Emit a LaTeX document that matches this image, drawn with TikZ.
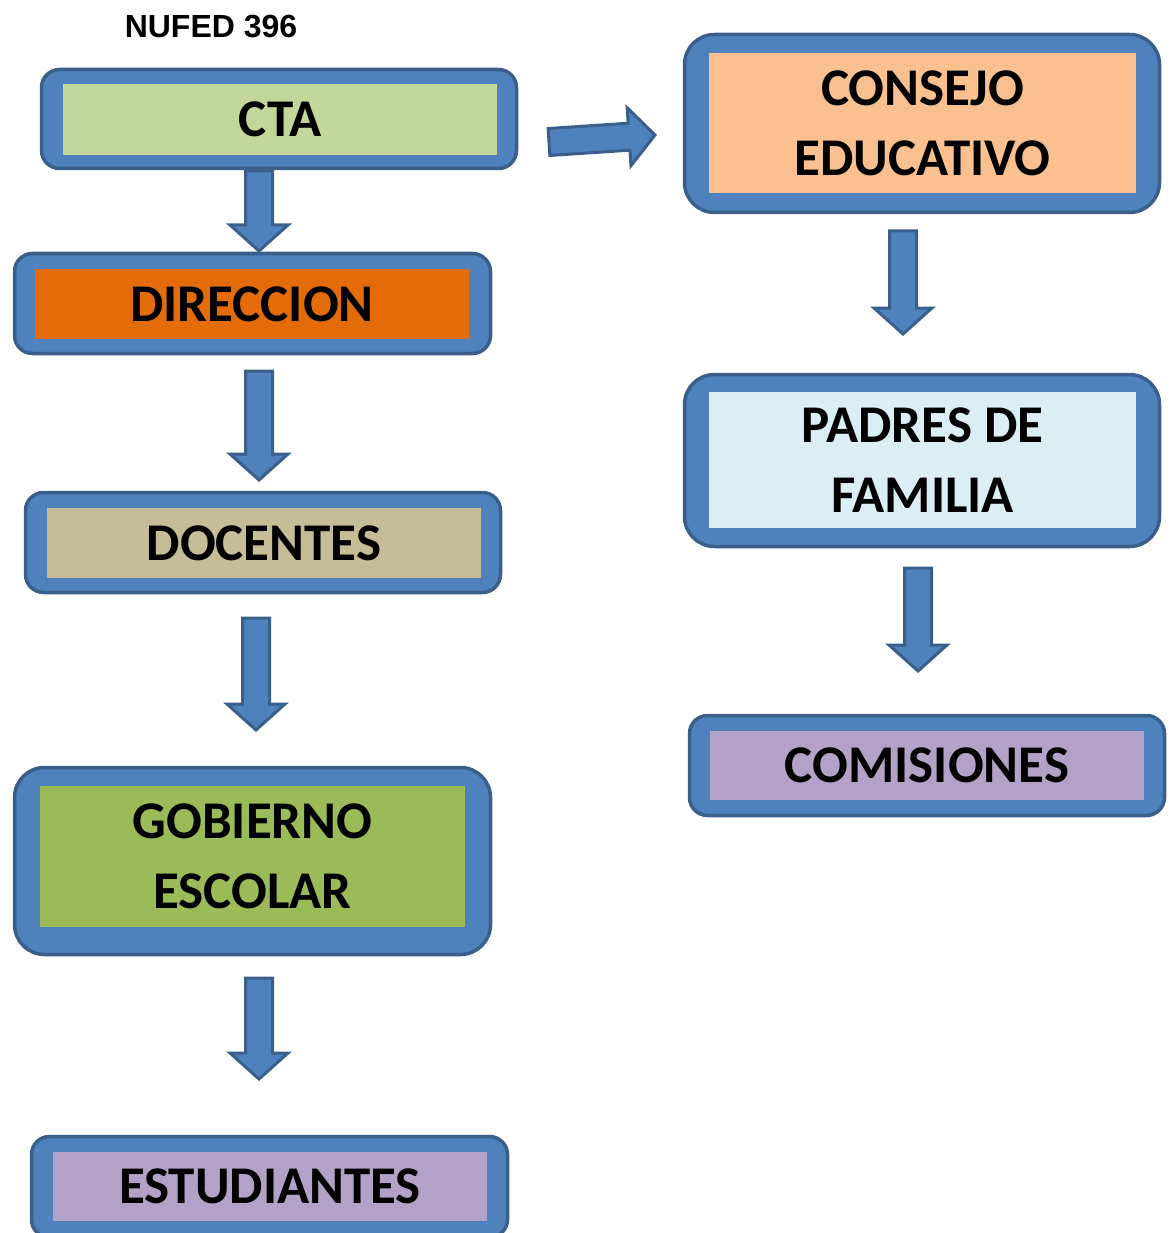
\documentclass[tikz,border=0pt]{standalone}
\usepackage{fontspec}
\setmainfont{Carlito}
\newfontfamily\arialfont{Liberation Sans}
\usetikzlibrary{calc}
\definecolor{frameblue}{HTML}{4F81BD}
\definecolor{frameline}{HTML}{3A5F8B}
\definecolor{ctagreen}{HTML}{C3D69B}
\definecolor{dirorange}{HTML}{E36C09}
\definecolor{doctan}{HTML}{C4BD97}
\definecolor{gobgreen}{HTML}{9BBB59}
\definecolor{lilac}{HTML}{B2A2C7}
\definecolor{peach}{HTML}{FAC08F}
\definecolor{paleblue}{HTML}{DBEEF3}
\begin{document}
\begin{tikzpicture}[x=1pt,y=-1pt,
  frame/.style={draw=frameline, fill=frameblue, line width=3.5pt, rounded corners=18pt, inner sep=0pt},
  bigframe/.style={frame, rounded corners=30pt},
  inner/.style={inner sep=0pt, font=\fontsize{53}{70}\selectfont\bfseries, align=center, text=black},
  blockarrow/.style={draw=frameline, fill=frameblue, line width=3pt, line join=miter,
    to path={let \p1=(\tikztostart), \p2=(\tikztotarget),
      \n1={veclen(\x2-\x1,\y2-\y1)}, \n2={(\x2-\x1)/\n1}, \n3={(\y2-\y1)/\n1}, \n4={\n1-26} in
      ({\x1-13.5*\n3},{\y1+13.5*\n2})
      -- ({\x1+\n4*\n2-13.5*\n3},{\y1+\n4*\n3+13.5*\n2})
      -- ({\x1+\n4*\n2-29*\n3},{\y1+\n4*\n3+29*\n2})
      -- (\p2)
      -- ({\x1+\n4*\n2+29*\n3},{\y1+\n4*\n3-29*\n2})
      -- ({\x1+\n4*\n2+13.5*\n3},{\y1+\n4*\n3-13.5*\n2})
      -- ({\x1+13.5*\n3},{\y1-13.5*\n2}) -- cycle}}
]
\useasboundingbox (0,0) rectangle (1172,1233);

\node[font=\arialfont\fontsize{32}{36}\selectfont\bfseries] (title) at (211,27) {NUFED 396};

% left column
\node[frame, minimum width=475pt, minimum height=99pt] (cta) at (279,119) {};
\node[inner, fill=ctagreen, minimum width=434pt, minimum height=71pt] (ctat) at (280,119.5) {CTA};

\node[frame, minimum width=476pt, minimum height=100pt] (dir) at (252.5,303.5) {};
\node[inner, fill=dirorange, minimum width=434pt, minimum height=70pt] (dirt) at (252,304) {DIRECCION};

\node[frame, minimum width=475pt, minimum height=100pt] (doc) at (263,542.5) {};
\node[inner, fill=doctan, minimum width=434pt, minimum height=70pt] (doct) at (264,543) {DOCENTES};

\node[bigframe, minimum width=476pt, minimum height=187pt] (gob) at (252.5,861) {};
\node[inner, fill=gobgreen, minimum width=425pt, minimum height=141pt] (gobt) at (252.5,856.5) {GOBIERNO\\ESCOLAR};

\node[frame, minimum width=476pt, minimum height=101pt] (est) at (269.5,1187) {};
\node[inner, fill=lilac, minimum width=434pt, minimum height=69pt] (estt) at (270,1186.5) {ESTUDIANTES};

% right column
\node[bigframe, minimum width=475pt, minimum height=178pt] (con) at (922,123.5) {};
\node[inner, fill=peach, minimum width=427pt, minimum height=140pt] (cont) at (922.5,123) {CONSEJO\\EDUCATIVO};

\node[bigframe, minimum width=475pt, minimum height=172pt] (pad) at (922,460.5) {};
\node[inner, fill=paleblue, minimum width=427pt, minimum height=136pt] (padt) at (922.5,460) {PADRES DE\\FAMILIA};

\node[frame, minimum width=475pt, minimum height=100pt] (com) at (927,765.5) {};
\node[inner, fill=lilac, minimum width=434pt, minimum height=69pt] (comt) at (927,765.5) {COMISIONES};

% arrow end points
\coordinate (a1s) at (259,171);  \coordinate (a1e) at (259,251);
\coordinate (a2s) at (259,371);  \coordinate (a2e) at (259,480);
\coordinate (a3s) at (256,618);  \coordinate (a3e) at (256,730);
\coordinate (a4s) at (259,978);  \coordinate (a4e) at (259,1079);
\coordinate (a5s) at (549,142);  \coordinate (a5e) at (655,135);
\coordinate (a6s) at (903,231);  \coordinate (a6e) at (903,334);
\coordinate (a7s) at (918,568);  \coordinate (a7e) at (918,671);

\draw[blockarrow] (a1s) to (a1e);
\draw[blockarrow] (a2s) to (a2e);
\draw[blockarrow] (a3s) to (a3e);
\draw[blockarrow] (a4s) to (a4e);
\draw[blockarrow] (a5s) to (a5e);
\draw[blockarrow] (a6s) to (a6e);
\draw[blockarrow] (a7s) to (a7e);
\end{tikzpicture}
\end{document}
